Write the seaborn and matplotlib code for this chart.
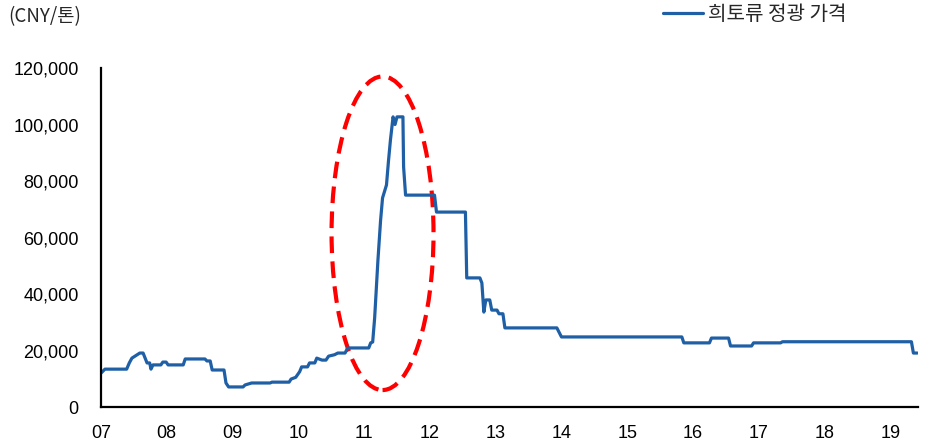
import matplotlib
matplotlib.use("Agg")
import matplotlib.pyplot as plt
from matplotlib.patches import Ellipse
from matplotlib.ticker import FuncFormatter
import seaborn as sns
import pandas as pd

# decimal year and price (CNY/ton)
years = [2007.00, 2007.06, 2007.39, 2007.43, 2007.47, 2007.59, 2007.64, 2007.70, 2007.74, 2007.76,
         2007.79, 2007.91, 2007.94, 2007.99, 2008.02, 2008.25, 2008.28, 2008.58, 2008.61, 2008.66,
         2008.69, 2008.87, 2008.90, 2008.94, 2009.16, 2009.19, 2009.29, 2009.57, 2009.60, 2009.86,
         2009.89, 2009.96, 2010.02, 2010.05, 2010.14, 2010.17, 2010.25, 2010.28, 2010.36, 2010.42,
         2010.46, 2010.55, 2010.60, 2010.71, 2010.75, 2011.07, 2011.10, 2011.13, 2011.16, 2011.21,
         2011.25, 2011.28, 2011.34, 2011.37, 2011.40, 2011.44, 2011.47, 2011.50, 2011.59, 2011.60,
         2011.63, 2012.07, 2012.10, 2012.54, 2012.56, 2012.76, 2012.79, 2012.82, 2012.85, 2012.91,
         2012.94, 2013.02, 2013.05, 2013.11, 2013.14, 2013.93, 2014.00, 2015.83, 2015.86, 2016.25,
         2016.28, 2016.54, 2016.57, 2016.89, 2016.92, 2017.33, 2017.36, 2019.32, 2019.35, 2019.41]
prices = [12000, 13400, 13400, 15600, 17300, 19100, 19100, 15600, 15600, 13400,
          14900, 14900, 15900, 15900, 14900, 14900, 17000, 17000, 16300, 16300,
          13100, 13100, 8500, 7100, 7100, 7800, 8500, 8500, 8800, 8800,
          9900, 10500, 12500, 14200, 14200, 15600, 15600, 17300, 16600, 16600,
          18000, 18500, 19100, 19100, 20900, 20900, 22700, 23000, 31500, 52000,
          66000, 74000, 78600, 87000, 94500, 102700, 100000, 102700, 102700, 85000,
          75000, 75000, 69000, 69000, 45700, 45700, 43900, 33600, 37900, 37900,
          34300, 34300, 33000, 33000, 28000, 28000, 24800, 24800, 22700, 22700,
          24400, 24400, 21600, 21600, 22700, 22700, 23100, 23100, 19100, 19100]
tick_years = list(range(2007, 2020))
tick_labels = [f"{y % 100:02d}" for y in tick_years]
series_name = "희토류 정광 가격"

df = pd.DataFrame({"year": years, "price": prices})

sns.set_style("white")
plt.rcParams['font.family'] = ['Noto Sans CJK KR', 'DejaVu Sans']

fig = plt.figure(figsize=(9.3, 4.44), dpi=100)
ax = fig.add_axes([101 / 930, 37 / 444, 817 / 930, 339 / 444])

sns.lineplot(data=df, x="year", y="price", ax=ax, color="#1f5fa6", linewidth=2.3,
             estimator=None, sort=False, label=series_name, legend=False)

# highlight of the 2011 spike
ax.add_patch(Ellipse((2011.28, 61500), 1.55, 111000, fill=False, edgecolor="red",
                     linestyle=(0, (4, 2)), linewidth=3))

ax.set_xlim(2007, 2019.42)
ax.set_ylim(0, 120000)
ax.set_xticks(tick_years)
ax.set_xticklabels(tick_labels)
ax.set_yticks(range(0, 120001, 20000))
ax.yaxis.set_major_formatter(FuncFormatter(lambda v, p: f"{int(v):,}"))
ax.set_xlabel("")
ax.set_ylabel("")

for s in ["top", "right"]:
    ax.spines[s].set_visible(False)
for s in ["left", "bottom"]:
    ax.spines[s].set_color("black")
    ax.spines[s].set_linewidth(1.6)
ax.tick_params(axis="x", direction="in", length=5, width=1, pad=13, labelsize=13, colors="black")
ax.tick_params(axis="y", direction="out", length=5, width=1, pad=11, labelsize=13, colors="black")
for lbl in ax.get_xticklabels() + ax.get_yticklabels():
    lbl.set_fontfamily("Liberation Sans")

fig.text(8 / 930, 1 - 17 / 444, "(CNY/톤)", fontsize=13.5, va="center", ha="left")

handles, labels = ax.get_legend_handles_labels()
fig.legend(handles, labels, loc="center left", bbox_to_anchor=(663 / 930, 1 - 15 / 444),
           frameon=False, fontsize=14.5, handlelength=2.0, handletextpad=0.25,
           borderpad=0, borderaxespad=0)

fig.savefig("out.png", dpi=100)
